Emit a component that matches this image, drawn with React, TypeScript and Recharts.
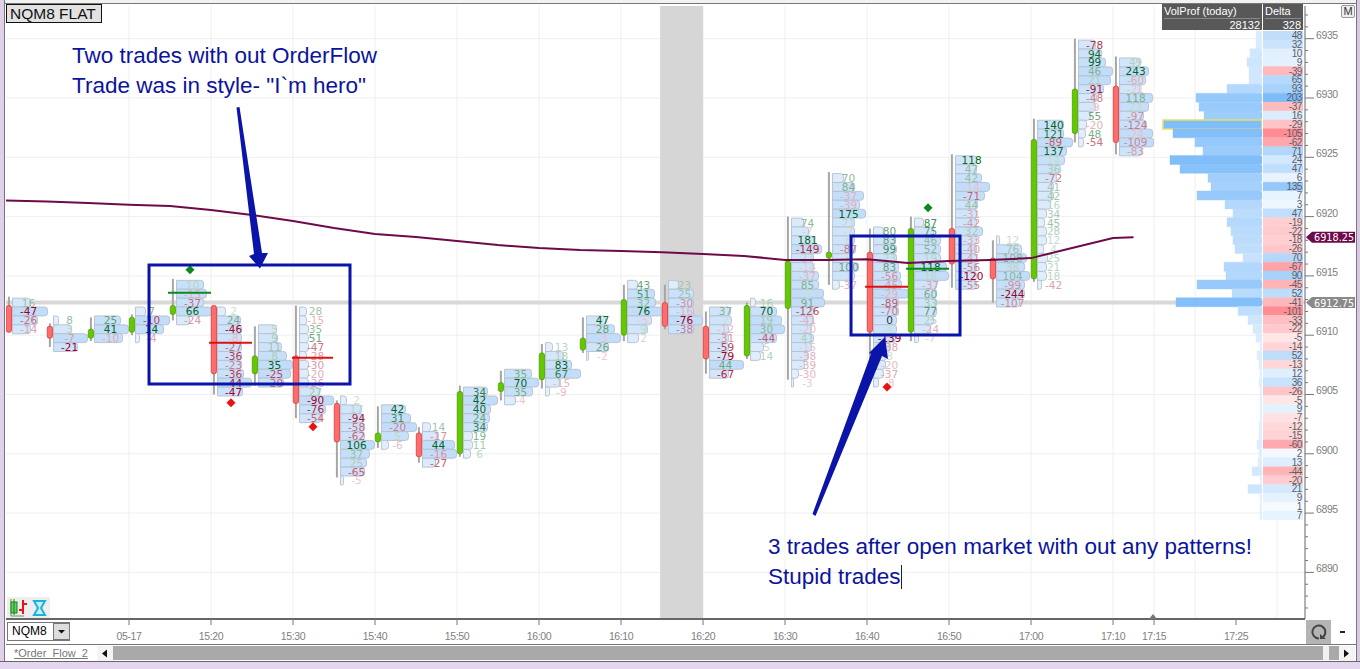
import React from "react"
import {
  Bar,
  BarChart,
  CartesianGrid,
  Cell,
  ComposedChart,
  LabelList,
  Line,
  ReferenceArea,
  ReferenceLine,
  Scatter,
  XAxis,
  YAxis,
} from "recharts"

// bars are 5 min apart, minutes since midnight
const candleMinutes = [
  895, 900, 905, 910, 915, 920, 925, 930, 935, 940, 945, 950, 955, 960, 965, 970, 975, 980, 985,
  990, 995, 1000, 1005, 1010, 1015, 1020, 1025, 1030,
]
const opens = [
  6912.5, 6910.75, 6909.75, 6910.25, 6911.75, 6912.5, 6906.75, 6908.25, 6904.25, 6901, 6901.75,
  6900, 6905.25, 6906.25, 6908.75, 6910, 6912.75, 6910.75, 6908.25, 6912.25, 6916.5, 6917, 6910.25,
  6919, 6916.5, 6914.75, 6927, 6931,
]
const closes = [
  6910.25, 6909.75, 6910.5, 6911.5, 6912.5, 6906.75, 6908.25, 6904.25, 6901, 6901.75, 6899.75,
  6905.25, 6906, 6908.5, 6909.75, 6913, 6910.75, 6908, 6912.5, 6916.25, 6917, 6910.25, 6919, 6916,
  6914.75, 6926.5, 6930.75, 6926.25,
]
const highs = [
  6913.25, 6911, 6911.5, 6911.75, 6914.75, 6912.5, 6910.75, 6912.5, 6904.5, 6904, 6902.25, 6905.75,
  6907, 6909.25, 6911.5, 6914.25, 6914.25, 6912, 6912.75, 6920, 6923.75, 6919, 6920, 6925.25, 6918,
  6928.25, 6935, 6933.5,
]
const lows = [
  6910.25, 6909, 6909.5, 6910, 6911.25, 6905, 6905.75, 6903, 6898, 6900.5, 6899.25, 6899.75, 6904.5,
  6905.5, 6908.5, 6909.5, 6910.5, 6906.75, 6908, 6906.25, 6914.25, 6908, 6909.5, 6914, 6912.75,
  6914.5, 6926.25, 6925.25,
]

// price of the first footprint row of each bar, rows go down 0.75 at a time
const footprintTops = [
  6912.75, 6911.25, 6911.25, 6912, 6914.25, 6912, 6910.5, 6912, 6904.5, 6903.75, 6902.25, 6905.25,
  6906.75, 6909, 6911.25, 6914.25, 6914.25, 6912, 6912.75, 6919.5, 6923.25, 6918.75, 6919.5,
  6924.75, 6918, 6927.75, 6934.5, 6933,
]
const rowDeltas = [
  [16, -47, -26, -14],
  [8, 3, -7, -21],
  [25, 41, -10],
  [7, -10, 14, -4],
  [10, -15, -37, 66, -24],
  [2, 24, -46, -8, -27, -36, -23, -36, -44, -47],
  [5, 9, 11, 8, 35, -25, -20],
  [28, -15, 35, 51, -47, -28, -30, -20, -26, 27, -90, -76, -54],
  [2, 17, -94, -58, -62, 106, 37, 25, -65, -5],
  [42, 31, -20, 5, -6],
  [14, -17, 44, -16, -27],
  [34, 42, 40, 24, 34, 19, 11, 6],
  [35, 70, 35, -4],
  [13, 18, 83, 67, -15, -9],
  [47, 28, -3, 26, -2],
  [43, 51, 32, 76, -5, 9, 2],
  [23, 25, -30, -16, -76, -38],
  [37, 2, -12, -31, -59, -79, 44, -67],
  [16, 70, 19, 30, -44, 5, 14],
  [74, -7, 181, -149, 27, -14, -37, 85, 6, 91, -126, -41, -20, 41, -15, -38, -39, -30, -3],
  [70, 84, -37, -39, 175, 21, -7, 8, -87, 8, 100, 1, -37],
  [80, 83, 99, 23, 83, -56, -45, -29, -89, -70, 0, 4, -139, -38, 8, -20, -37, -8],
  [87, 75, 46, 52, 19, 118, 16, -37, 60, 33, 77, 25, -24, -7],
  [118, 47, 42, -14, -71, 44, -31, -42, 32, -33, -40, -41, -56, -120, -55],
  [12, 76, 108, 38, 104, -99, -244, -107],
  [140, 121, -89, 137, 14, 36, -72, 41, 42, 16, 34, 45, 28, 12, 4, 25, 21, 18, -42],
  [-78, 94, 99, 46, 21, -91, -48, -9, 55, -20, 48, -54],
  [49, 243, -60, -21, 118, 23, -97, -124, -24, -109, -83],
]
const rowVolumes = [
  [18, 35, 25, 18],
  [5, 18, 34, 24],
  [26, 34, 28],
  [10, 34, 28, 4],
  [27, 30, 27, 35, 13],
  [8, 23, 24, 24, 24, 24, 24, 26, 34, 25],
  [18, 19, 23, 28, 34, 32, 25],
  [7, 7, 9, 9, 9, 7, 9, 9, 9, 20, 34, 26, 21],
  [6, 21, 23, 24, 24, 34, 29, 26, 24, 3],
  [24, 29, 35, 27, 7],
  [8, 16, 32, 34, 13],
  [24, 34, 27, 26, 24, 9, 9, 7],
  [27, 34, 28, 11],
  [7, 18, 26, 35, 14, 4],
  [19, 28, 34, 22, 2],
  [10, 27, 28, 34, 24, 20, 11],
  [10, 25, 25, 25, 34, 25],
  [21, 22, 19, 19, 19, 19, 34, 19],
  [5, 26, 31, 34, 26, 13, 10],
  [12, 17, 22, 30, 22, 22, 27, 27, 32, 33, 22, 22, 20, 22, 20, 17, 13, 7, 2],
  [11, 22, 31, 27, 33, 22, 22, 22, 23, 19, 26, 22, 7],
  [10, 22, 23, 23, 25, 27, 28, 35, 25, 25, 23, 23, 22, 17, 13, 12, 10, 5],
  [9, 19, 26, 26, 26, 32, 34, 22, 22, 22, 22, 19, 16, 4],
  [21, 21, 26, 34, 29, 22, 21, 21, 27, 21, 21, 21, 21, 21, 21],
  [3, 25, 30, 28, 33, 28, 28, 23],
  [26, 26, 35, 29, 27, 23, 19, 16, 16, 13, 9, 7, 9, 9, 6, 10, 9, 9, 4],
  [17, 23, 27, 34, 32, 25, 18, 17, 12, 8, 7, 5],
  [20, 29, 26, 20, 33, 29, 24, 27, 33, 34, 22],
]

// VWAP line
const vwapMinutes = [
  895, 900, 905, 910, 915, 920, 925, 930, 935, 940, 945, 950, 955, 960, 965, 970, 975, 980, 985,
  990, 995, 1000, 1005, 1010, 1015, 1020, 1025, 1030, 1032.5,
]
const vwapValues = [
  6921.36, 6921.27, 6921.15, 6921.0, 6920.9, 6920.56, 6920.14, 6919.63, 6919.04, 6918.53, 6918.28,
  6917.95, 6917.6, 6917.35, 6917.18, 6917.1, 6917.0, 6916.85, 6916.68, 6916.35, 6916.35, 6916.4,
  6916.08, 6916.25, 6916.35, 6916.5, 6917.35, 6918.2, 6918.25,
]

// session profile on the right, one row per 0.75, from the top down
const profileTopPrice = 6935.25
const profileVolumes = [
  6, 6, 12, 15, 13, 13, 35, 66, 63, 58, 99, 89, 67, 59, 92, 82, 54, 51, 65, 37, 29, 35, 31, 29, 27,
  19, 38, 36, 65, 30, 86, 24, 14, 9, 6, 2, 5, 3, 2, 3, 2, 2, 2, 2, 3, 3, 5, 3, 4, 10, 2, 14, 2, 2,
  2,
]
const profileDeltas = [
  48, 32, 10, 9, -39, 65, 93, 203, -37, 16, -29, -105, -62, 71, 24, 47, 6, 135, 7, 3, 47, -19, -22,
  -18, -26, 70, -67, 90, -45, 52, -41, -101, -33, -22, -5, -14, 52, -13, 12, 36, -26, -5, 9, -7,
  -12, -15, -60, 2, 13, -44, -20, 21, 9, 1, 7,
]

const signalMinutes = [917.44, 922.44, 932.44, 1002.44, 1007.44]
const signalPrices = [6915.52, 6904.3, 6902.28, 6905.63, 6920.75]
const signalSides = ["buy", "sell", "sell", "sell", "buy"]

const tradeStarts = [914.76, 919.76, 929.88, 999.76, 1004.76]
const tradeEnds = [920, 925, 934.88, 1005, 1010]
const tradePrices = [6913.58, 6909.37, 6908.1, 6914.09, 6915.6]
const tradeSides = ["buy", "sell", "sell", "sell", "buy"]

const timeTicks = [910, 920, 930, 940, 950, 960, 970, 980, 990, 1000, 1010, 1020, 1030, 1035, 1045]
const timeLabels = [
  "05-17", "15:20", "15:30", "15:40", "15:50", "16:00", "16:10", "16:20", "16:30", "16:40", "16:50",
  "17:00", "17:10", "17:15", "17:25",
]
const gridMinutes = [
  910, 920, 930, 940, 950, 960, 970, 980, 990, 1000, 1010, 1020, 1030, 1035, 1040, 1050,
]
const gridPrices = [6890, 6895, 6900, 6905, 6910, 6915, 6920, 6925, 6930, 6935]
const priceTicks = Array.from({ length: 51 }, (_, i) => 6887 + i)

const lastPrice = 6912.75
const vwapPrice = 6918.25

const rowStep = 0.75
const barOffset = 0.37 // bars sit a little right of their time mark
const XDOMAIN = [895, 1053.41]
const YDOMAIN = [6886.07, 6937.757]
const MONO = "'DejaVu Sans', sans-serif"
const AXISFONT = "'Liberation Sans', Arial, sans-serif"

const candleTable = candleMinutes.map((m, i) => ({
  time: m + barOffset,
  range: [lows[i], highs[i]],
  open: opens[i],
  close: closes[i],
  high: highs[i],
  low: lows[i],
}))

const footprintTable = candleMinutes.flatMap((m, i) => {
  const top = Math.max(...rowDeltas[i].map((d) => Math.abs(d)))
  return rowDeltas[i].map((delta, r) => ({
    time: m + barOffset,
    price: footprintTops[i] - r * rowStep,
    delta,
    volume: rowVolumes[i][r],
    share: delta === 0 ? 0 : Math.abs(delta) / top,
  }))
})

const vwapTable = vwapMinutes.map((time, i) => ({ time, value: vwapValues[i] }))
const signalTable = signalMinutes.map((time, i) => ({
  time,
  price: signalPrices[i],
  side: signalSides[i],
}))
const profileTable = profileDeltas.map((delta, i) => ({
  price: profileTopPrice - i * rowStep,
  delta,
  volume: profileVolumes[i],
  column: 1,
}))

const mix = (from: number[], to: number[], t: number) =>
  `rgb(${from.map((c, i) => Math.round(c + (to[i] - c) * t)).join(",")})`

const WHITE = [255, 255, 255]
const deltaText = (delta: number, share: number) => {
  const t = 0.2 + 0.8 * Math.pow(share, 1.3)
  if (delta === 0) return "#334"
  return delta > 0 ? mix(WHITE, [0, 100, 30], t) : mix(WHITE, [160, 0, 30], t)
}
const deltaCell = (delta: number) =>
  delta >= 0
    ? mix(WHITE, [125, 188, 248], Math.sqrt(delta / 203))
    : mix(WHITE, [255, 140, 146], Math.sqrt(-delta / 105))
const volumeCell = (v: number) =>
  mix([232, 243, 254], [128, 190, 250], Math.min(1, Math.pow(v / 90, 0.75)))

const FootprintRow = ({ cx, cy, payload }: any) => {
  const x0 = cx + 3.5
  const w = payload.volume
  const h = 8.9
  const r = Math.min(3, w / 2)
  const top = cy - h / 2
  const fill = mix([236, 244, 253], [193, 221, 250], Math.min(1, w / 32))
  return (
    <path
      d={`M${x0},${top}h${w - r}q${r},0 ${r},${r}v${h - 2 * r}q0,${r} ${-r},${r}h${r - w}z`}
      fill={fill}
      stroke="#b4c0ce"
      strokeWidth={0.9}
    />
  )
}

// numbers go in their own layer so the next row's bar doesn't cover them
const FootprintNumber = ({ cx, cy, payload }: any) => (
  <text
    x={cx + 19.5}
    y={cy + 4}
    textAnchor="middle"
    fontFamily={MONO}
    fontSize={10.5}
    fill={deltaText(payload.delta, payload.share)}
  >
    {payload.delta}
  </text>
)

// range bar gives the wick, the body is placed inside it by price
const Candle = ({ x, y, width, height, payload }: any) => {
  const mid = x + width / 2
  const perPoint = height / (payload.high - payload.low)
  const bodyTop = y + (payload.high - Math.max(payload.open, payload.close)) * perPoint
  const bodyH = Math.abs(payload.open - payload.close) * perPoint
  const up = payload.close >= payload.open
  return (
    <g>
      <line x1={mid} x2={mid} y1={y} y2={y + height} stroke="#a6a6a6" strokeWidth={2} />
      <rect
        x={mid - 2.6}
        y={bodyTop}
        width={5.2}
        height={bodyH}
        rx={2}
        fill={up ? "#64c800" : "#ff6c6c"}
        stroke={up ? "#4c9e04" : "#d83838"}
        strokeWidth={0.8}
      />
    </g>
  )
}

const SignalMark = ({ cx, cy, payload }: any) => (
  <path
    d={`M${cx},${cy - 4.5}L${cx + 4.5},${cy}L${cx},${cy + 4.5}L${cx - 4.5},${cy}Z`}
    fill={payload.side === "buy" ? "#0a8a1e" : "#ee1010"}
  />
)

const TimeTick = ({ x, y, payload, index }: any) => (
  <g>
    <line x1={x} x2={x} y1={y - 8} y2={y - 2} stroke="#777" />
    <text
      x={x}
      y={y + 13}
      textAnchor="middle"
      fontFamily={AXISFONT}
      fontSize={10.5}
      letterSpacing={-0.4}
      fill="#808080"
    >
      {timeLabels[index] ?? payload.value}
    </text>
  </g>
)

const PriceTick = ({ x, y, payload }: any) => {
  const major = payload.value % 5 === 0
  const x0 = x - 8
  return (
    <g>
      <line x1={x0} x2={x0 + (major ? 9 : 3)} y1={y} y2={y} stroke="#777" />
      {major && (
        <text
          x={x0 + 11}
          y={y}
          fontFamily={AXISFONT}
          fontSize={10.5}
          letterSpacing={-0.4}
          fill="#808080"
        >
          {payload.value}
        </text>
      )}
    </g>
  )
}

const PriceTag = ({ viewBox, value, color }: any) => {
  const y = viewBox.y
  const x = viewBox.x + viewBox.width + 1
  return (
    <g>
      <path d={`M${x},${y}l6,-5.5h43v11h-43z`} fill={color} />
      <text x={x + 8} y={y + 4} fontFamily={MONO} fontSize={9.7} fill="#fff">
        {value}
      </text>
    </g>
  )
}

const box = (left: number, top: number, width: number, height: number, rest: object = {}) =>
  ({ position: "absolute", left, top, width, height, boxSizing: "border-box", ...rest }) as React.CSSProperties

const Frame = () => (
  <>
    <div style={box(0, 0, 1360, 4, { background: "#f2f2f2", borderBottom: "1px solid #777" })} />
    <div style={box(0, 0, 5, 669, { background: "#e0d0ea", borderRight: "1px solid #777" })} />
    <div style={box(1356, 0, 4, 669, { background: "#d8c8e4", borderLeft: "1px solid #777" })} />
    <div style={box(0, 661, 1360, 8, { background: "#e4d6ee", borderTop: "1px solid #666" })} />
    <div style={box(6, 644, 1350, 1, { background: "#777" })} />
    {/* symbol picker */}
    <div
      style={box(7, 622, 63, 19, {
        background: "#fff",
        border: "1px solid #777",
        font: "12px 'Liberation Sans', sans-serif",
        lineHeight: "17px",
        paddingLeft: 4,
      })}
    >
      NQM8
    </div>
    <div style={box(53, 623, 17, 17, { background: "#ddd", border: "1px solid #777" })}>
      <svg width={15} height={15} style={{ display: "block" }}>
        <path d="M4,6h7l-3.5,3.5z" fill="#111" />
      </svg>
    </div>
    {/* tabs and scrollbar */}
    <div
      style={box(14, 647, 80, 14, {
        font: "11px 'Liberation Sans', sans-serif",
        color: "#777",
        textDecoration: "underline",
      })}
    >
      *Order_Flow_2
    </div>
    <div style={box(97, 646, 16, 15, { background: "#f4f4f4" })}>
      <svg width={16} height={15} style={{ display: "block" }}>
        <path d="M10,3.5v8l-5,-4z" fill="#111" />
      </svg>
    </div>
    <div style={box(113, 646, 1226, 14, { background: "#a9a9a9" })} />
    <div style={box(1323, 646, 6, 14, { background: "#f0f0f0" })} />
    <div style={box(1339, 646, 16, 15, { background: "#f4f4f4" })}>
      <svg width={16} height={15} style={{ display: "block" }}>
        <path d="M5,3.5v8l5,-4z" fill="#111" />
      </svg>
    </div>
    {/* bottom right buttons */}
    <div style={box(1306, 620, 25, 24, { background: "#b4b4b4" })}>
      <svg width={25} height={24} style={{ display: "block" }}>
        <path d="M17,17a6.5,6.5 0 1 0 -4,1.5" fill="none" stroke="#444" strokeWidth={2} />
        <path d="M14,14l6,5h-6z" fill="#444" />
      </svg>
    </div>
    <div style={box(1340, 631, 5, 2, { background: "#222" })} />
    {/* chart type icons */}
    <div style={box(7, 597, 43, 21, { background: "#eeeeee" })}>
      <svg width={43} height={21} style={{ display: "block" }}>
        <path d="M4,2v17h13" fill="none" stroke="#5a9a5a" />
        <rect x={4} y={5} width={6} height={11} fill="#66cc66" stroke="#118811" />
        <path d="M7,2v16" stroke="#118811" />
        <path d="M16,3v14M16,7h4M12,13h4" stroke="#ee1111" strokeWidth={2} fill="none" />
        <path d="M27,4h11l-4,7 4,7h-11l4,-7z" fill="#c8eefa" stroke="#18b4dc" strokeWidth={2} />
      </svg>
    </div>
  </>
)

const Overlays = () => (
  <>
    <div
      style={box(6, 4, 96, 19, {
        background: "#e2e2e2",
        border: "1px solid #111",
        font: "15.5px 'Liberation Sans', sans-serif",
        lineHeight: "17px",
        paddingLeft: 3,
        color: "#111",
      })}
    >
      NQM8 FLAT
    </div>
    <div
      style={box(1162, 4, 100, 26, {
        background: "#585858",
        color: "#fff",
        font: "11px 'Liberation Sans', sans-serif",
        lineHeight: "13px",
        padding: "1px 2px",
      })}
    >
      VolProf (today)
      <div style={{ textAlign: "right", borderTop: "1px solid #888" }}>28132</div>
    </div>
    <div
      style={box(1263, 4, 40, 26, {
        background: "#585858",
        color: "#fff",
        font: "11px 'Liberation Sans', sans-serif",
        lineHeight: "13px",
        padding: "1px 2px",
      })}
    >
      Delta
      <div style={{ textAlign: "right", borderTop: "1px solid #888" }}>328</div>
    </div>
    <div
      style={box(1341, 5, 14, 13, {
        background: "#eee",
        border: "1px solid #999",
        borderRadius: 2,
        font: "11px 'Liberation Sans', sans-serif",
        lineHeight: "11px",
        textAlign: "center",
        color: "#333",
      })}
    >
      M
    </div>
    {/* hand drawn notes */}
    {[
      ["Two trades with out OrderFlow", 72, 44],
      ['Trade was in style- "I`m hero"', 72, 74],
      ["3 trades after open market with out any patterns!", 768, 535],
      ["Stupid trades", 768, 565],
    ].map(([text, left, top]) => (
      <div
        key={text as string}
        style={box(left as number, top as number, 600, 24, {
          font: "22.5px 'Liberation Sans', Arial, sans-serif",
          lineHeight: "24px",
          color: "#0c149c",
          whiteSpace: "nowrap",
        })}
      >
        {text}
      </div>
    ))}
    <div style={box(901, 565, 1, 24, { background: "#222" })} />
    <svg width={1360} height={669} style={{ position: "absolute", left: 0, top: 0 }}>
      <path d="M236.5,107.5L239.5,107L262,253L268,253L260,268.5L249,256L254,254Z" fill="#0a14a8" />
      <path
        d="M812.5,514L871,354L869,353L885,337L888,359L882,356L815.5,516Z"
        fill="#0a14a8"
      />
      <path d="M1149,619l4,-5l4,5z" fill="#777" />
    </svg>
  </>
)

const Profile = () => (
  <>
    <div style={{ position: "absolute", left: 1162, top: 31 }}>
      <BarChart
        width={100}
        height={489}
        data={profileTable}
        layout="vertical"
        barCategoryGap={0}
        margin={{ top: 0, right: 0, bottom: 0, left: 0 }}
      >
        <XAxis type="number" domain={[0, 100]} reversed hide />
        <YAxis type="category" dataKey="price" hide />
        <Bar dataKey="volume" isAnimationActive={false} radius={[2, 0, 0, 2]}>
          {profileTable.map((row, i) => (
            <Cell
              key={i}
              fill={volumeCell(row.volume)}
              stroke={row.volume === 99 ? "#e6de6a" : volumeCell(row.volume)}
              strokeWidth={row.volume === 99 ? 1.5 : 0.4}
            />
          ))}
        </Bar>
      </BarChart>
    </div>
    <div style={{ position: "absolute", left: 1263, top: 31 }}>
      <BarChart
        width={40}
        height={489}
        data={profileTable}
        layout="vertical"
        barCategoryGap={0}
        margin={{ top: 0, right: 0, bottom: 0, left: 0 }}
      >
        <XAxis type="number" domain={[0, 1]} hide />
        <YAxis type="category" dataKey="price" hide />
        <Bar dataKey="column" isAnimationActive={false}>
          {profileTable.map((row, i) => (
            <Cell key={i} fill={deltaCell(row.delta)} stroke={deltaCell(row.delta)} strokeWidth={0.4} />
          ))}
          <LabelList
            dataKey="delta"
            content={({ x, y, width, height, value }: any) => (
              <text
                x={x + width - 1}
                y={y + height / 2 + 3.5}
                textAnchor="end"
                fontFamily={AXISFONT}
                fontSize={10}
                letterSpacing={-0.4}
                fill="#5a6068"
              >
                {value}
              </text>
            )}
          />
        </Bar>
      </BarChart>
    </div>
  </>
)

export default function App() {
  return (
    <div style={box(0, 0, 1360, 669, { background: "#fff", overflow: "hidden" })}>
      <Frame />
      <div style={{ position: "absolute", left: 0, top: 0 }}>
        <ComposedChart
          width={1360}
          height={669}
          data={candleTable}
          margin={{ top: 6, right: 0, bottom: 0, left: 6 }}
        >
          <CartesianGrid stroke="#efefef" verticalValues={gridMinutes} horizontalValues={gridPrices} />
          <XAxis
            type="number"
            dataKey="time"
            domain={XDOMAIN}
            allowDataOverflow
            ticks={timeTicks}
            interval={0}
            height={50}
            tickLine={false}
            tick={<TimeTick />}
            axisLine={{ stroke: "#666", strokeWidth: 2 }}
          />
          <YAxis
            orientation="right"
            width={55}
            domain={YDOMAIN}
            allowDataOverflow
            ticks={priceTicks}
            interval={0}
            tickLine={false}
            tick={<PriceTick />}
            axisLine={{ stroke: "#666" }}
          />
          <ReferenceArea x1={974.76} x2={980} fill="#d6d6d6" fillOpacity={1} strokeOpacity={0} zIndex={-60} />
          <ReferenceLine y={lastPrice} stroke="#d8d8d8" strokeWidth={4} zIndex={-50} />
          <Scatter
            data={footprintTable}
            dataKey="price"
            shape={<FootprintRow />}
            isAnimationActive={false}
            zIndex={200}
          />
          <Scatter
            data={footprintTable}
            dataKey="price"
            shape={<FootprintNumber />}
            isAnimationActive={false}
            zIndex={250}
          />
          <Bar dataKey="range" barSize={8} shape={<Candle />} isAnimationActive={false} zIndex={300} />
          <Line
            data={vwapTable}
            dataKey="value"
            stroke="#6e0a4a"
            strokeWidth={2}
            dot={false}
            isAnimationActive={false}
            zIndex={400}
          />
          {tradePrices.map((price, i) => (
            <ReferenceLine
              key={i}
              segment={[
                { x: tradeStarts[i], y: price },
                { x: tradeEnds[i], y: price },
              ]}
              stroke={tradeSides[i] === "buy" ? "#0a8a1e" : "#e01010"}
              strokeWidth={2}
              zIndex={450}
            />
          ))}
          <Scatter
            data={signalTable}
            dataKey="price"
            shape={<SignalMark />}
            isAnimationActive={false}
            zIndex={600}
          />
          <ReferenceArea
            x1={912.44}
            x2={936.95}
            y1={6915.92}
            y2={6905.88}
            fill="none"
            stroke="#0a14a8"
            strokeWidth={3}
            zIndex={700}
          />
          <ReferenceArea
            x1={998.05}
            x2={1011.34}
            y1={6918.37}
            y2={6910.02}
            fill="none"
            stroke="#0a14a8"
            strokeWidth={3}
            zIndex={700}
          />
          <ReferenceLine
            y={lastPrice}
            strokeOpacity={0}
            label={<PriceTag value={lastPrice} color="#8a8a8a" />}
          />
          <ReferenceLine
            y={vwapPrice}
            strokeOpacity={0}
            label={<PriceTag value={vwapPrice} color="#6e0a4a" />}
          />
        </ComposedChart>
      </div>
      <Profile />
      <Overlays />
    </div>
  )
}
